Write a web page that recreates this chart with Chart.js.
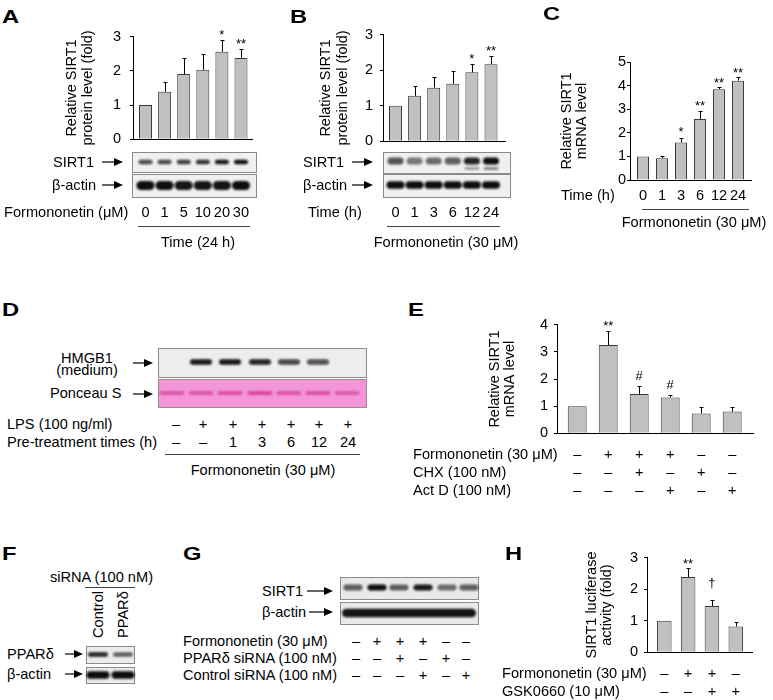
<!DOCTYPE html>
<html><head><meta charset="utf-8">
<script src="https://cdn.jsdelivr.net/npm/chart.js@4.4.1/dist/chart.umd.min.js"></script>
<style>
html,body{margin:0;padding:0;background:#fff;}
#fig{position:relative;width:773px;height:700px;overflow:hidden;font-family:"Liberation Sans",Arial,sans-serif;color:#000;background:#fff;}
#fig canvas{position:absolute;}
.t{position:absolute;white-space:nowrap;line-height:1;font-size:14.6px;}
#ov{position:absolute;left:0;top:0;}
</style></head><body>
<div id="fig"><svg id="ov" width="773" height="700"></svg></div>
<script>
// ---------------- DATA ----------------
// Panel A: SIRT1 protein vs formononetin dose (24 h)
const aDoses   = ['0','1','5','10','20','30'];
const aValues  = [1.00, 1.39, 1.91, 2.03, 2.56, 2.38];
const aErrors  = [0, 0.30, 0.47, 0.45, 0.34, 0.27];
const aMarks   = ['', '', '', '', '*', '**'];
const aSirt1Bands = [0.75, 0.75, 0.80, 0.85, 0.95, 1.00];
const aActinBands = [1.00, 1.00, 0.97, 0.97, 0.97, 1.00];

// Panel B: SIRT1 protein vs time (30 uM)
const bTimes   = ['0','1','3','6','12','24'];
const bValues  = [1.00, 1.28, 1.51, 1.62, 1.94, 2.17];
const bErrors  = [0, 0.27, 0.31, 0.37, 0.23, 0.23];
const bMarks   = ['', '', '', '', '*', '**'];
const bSirt1Bands = [0.70, 0.50, 0.55, 0.65, 0.90, 1.00];
const bActinBands = [1.00, 1.00, 1.00, 1.00, 1.00, 1.00];

// Panel C: SIRT1 mRNA vs time
const cTimes   = ['0','1','3','6','12','24'];
const cValues  = [1.00, 0.92, 1.59, 2.58, 3.85, 4.21];
const cErrors  = [0, 0.08, 0.21, 0.34, 0.08, 0.14];
const cMarks   = ['', '', '*', '**', '**', '**'];

// Panel D: HMGB1 blot
const dLPS       = ['–','+','+','+','+','+','+'];
const dPretreat  = ['–','–','1','3','6','12','24'];
const dHmgb1Bands   = [0, 0.95, 0.95, 0.90, 0.75, 0.70, 0];
const dPonceauBands = [0.55, 0.55, 0.60, 0.65, 0.55, 0.60, 0.50];

// Panel E: SIRT1 mRNA with CHX / Act D
const eFormononetin = ['–','+','+','+','–','–'];
const eCHX          = ['–','–','+','–','+','–'];
const eActD         = ['–','–','–','+','–','+'];
const eValues  = [1.00, 3.25, 1.45, 1.32, 0.73, 0.80];
const eErrors  = [0, 0.52, 0.29, 0.10, 0.24, 0.17];
const eMarks   = ['', '**', '#', '#', '', ''];

// Panel F: PPARdelta knockdown blot
const fLanes = ['Control', 'PPARδ'];
const fPpardBands = [0.90, 0.60];
const fActinBands = [1.00, 1.00];

// Panel G: SIRT1 blot with siRNA
const gFormononetin = ['–','+','+','+','–','–'];
const gPPARd        = ['–','–','+','–','+','–'];
const gControl      = ['–','–','–','+','–','+'];
const gSirt1Bands   = [0.65, 1.00, 0.60, 0.95, 0.55, 0.65];

// Panel H: SIRT1 luciferase
const hFormononetin = ['–','+','+','–'];
const hGSK          = ['–','–','+','+'];
const hValues  = [1.00, 2.39, 1.47, 0.82];
const hErrors  = [0, 0.27, 0.18, 0.14];
const hMarks   = ['', '**', '†', ''];

// ---------------- HELPERS ----------------
const FONT = '"Liberation Sans", Arial, sans-serif';
const fig = document.getElementById('fig');
const svg = document.getElementById('ov');
const NS = 'http://www.w3.org/2000/svg';
function S(tag, attrs, parent){ const e=document.createElementNS(NS,tag); for(const k in attrs) e.setAttribute(k, attrs[k]); (parent||svg).appendChild(e); return e; }
const defs = S('defs', {});
const flt = S('filter', {id:'bl', x:'-30%', y:'-150%', width:'160%', height:'400%'}, defs);
S('feGaussianBlur', {stdDeviation:'1.1'}, flt);

function line(x1,y1,x2,y2,w,c){ S('line',{x1,y1,x2,y2,stroke:c||'#333','stroke-width':w||1}); }
function arrow(x1,x2,y){ line(x1,y,x2-5,y,1.2,'#000'); S('polygon',{points:`${x2-9},${y-4} ${x2},${y} ${x2-9},${y+4}`, fill:'#000'}); }
function box(x,y,w,h,fill,stroke){ S('rect',{x:x+0.5,y:y+0.5,width:w,height:h,fill,stroke:stroke||'#8a8a8a','stroke-width':1}); }
function bands(xs, cy, intens, bw, bh, color){
  const g = S('g', {filter:'url(#bl)'});
  xs.forEach((x,i)=>{ if(intens[i]>0) S('rect',{x:x-bw/2,y:cy-bh/2,width:bw,height:bh,rx:bh/2,ry:bh/2,fill:color||'#0a0a0a','fill-opacity':intens[i]},g); });
}
function T(s, x, y, o){
  o = o||{};
  const d = document.createElement('div'); d.className='t'; d.textContent = s;
  if(o.size) d.style.fontSize = o.size+'px';
  if(o.bold) d.style.fontWeight = 'bold';
  d.style.left = x+'px'; d.style.top = y+'px';
  if(o.rot){
    d.style.transformOrigin = '0 0';
    d.style.transform = 'rotate(-90deg) translate(0,-50%)';
  } else {
    const tx = o.align==='center' ? '-50%' : o.align==='right' ? '-100%' : '0';
    d.style.transform = `translate(${tx},-50%)` + (o.sx ? ` scaleX(${o.sx})` : '');
    if(o.sx) d.style.transformOrigin = '0 50%';
  }
  fig.appendChild(d);
  return d;
}
function errPlugin(errors){
  return { id:'errbars', afterDatasetsDraw(chart){
    const {ctx, scales:{x,y}} = chart;
    const data = chart.data.datasets[0].data;
    ctx.save(); ctx.strokeStyle='#000'; ctx.lineWidth=1;
    data.forEach((d,i)=>{
      const e = errors[i]; if(!e) return;
      const px = Math.round(x.getPixelForValue(d.x))+0.5;
      const y0 = y.getPixelForValue(d.y), y1 = Math.round(y.getPixelForValue(d.y+e))+0.5;
      ctx.beginPath(); ctx.moveTo(px,y0); ctx.lineTo(px,y1);
      ctx.moveTo(px-2,y1); ctx.lineTo(px+2,y1); ctx.stroke();
    });
    ctx.restore();
  }};
}
function barChart(o){
  const cv = document.createElement('canvas');
  cv.width = o.w; cv.height = o.h;
  cv.style.left = o.left+'px'; cv.style.top = o.top+'px';
  cv.style.width = o.w+'px'; cv.style.height = o.h+'px';
  fig.appendChild(cv);
  const ch = new Chart(cv, {
    type: 'bar',
    data: { datasets: [{ data: o.values.map((v,i)=>({x:i, y:v})), backgroundColor:'#c0c0c0', borderColor:'#3a3a3a', borderWidth:1, barPercentage:o.bp, categoryPercentage:1 }] },
    options: {
      responsive:false, animation:false, devicePixelRatio:1,
      layout:{ padding:{ left:o.padL, top:10, right:4, bottom:10 } },
      plugins:{ legend:{display:false}, tooltip:{enabled:false} },
      scales:{
        x:{ type:'linear', min:o.xmin, max:o.xmax, offset:false,
            grid:{display:false, drawTicks:false}, ticks:{display:false},
            border:{display:true, color:'#000', width:1},
            afterBuildTicks: s => { s.ticks = o.values.map((v,i)=>({value:i})); },
            afterFit: s => { s.height = 0; } },
        y:{ min:0, max:o.ymax,
            ticks:{ stepSize:1, color:'#000', padding:o.tpad, font:{family:FONT, size:14.5} },
            grid:{ drawOnChartArea:false, drawTicks:true, tickLength:3, color:'#000' },
            border:{ display:true, color:'#000', width:1 },
            title:{ display:true, text:o.title, color:'#000', padding:0, font:{family:FONT, size:14.5, lineHeight:o.lh/14.5} },
            afterFit: s => { s.width = o.yw; } }
      }
    },
    plugins:[ errPlugin(o.errors) ]
  });
  ch._L = o.left; ch._T = o.top;
  return ch;
}
function px(ch, i){ return ch._L + ch.scales.x.getPixelForValue(i); }
const MARK_OFF = {'*':0.277,'**':0.277,'#':0.4865,'†':0.5765};
const MARK_GAP = {'*':8.5,'**':8,'#':10.5,'†':17};
function marks(ch, vals, errs, mk){
  mk.forEach((m,i)=>{
    if(!m) return;
    const sz = 13;
    const yTop = ch._T + ch.scales.y.getPixelForValue(vals[i]+errs[i]);
    const cy = yTop - MARK_GAP[m];
    const d = document.createElement('div'); d.className='t'; d.textContent=m;
    d.style.fontSize = sz+'px'; d.style.left = px(ch,i)+'px'; d.style.top = (cy - MARK_OFF[m]*sz)+'px';
    d.style.transform = 'translateX(-50%)';
    fig.appendChild(d);
  });
}
function row(ch, arr, cy){ arr.forEach((s,i)=>T(s, px(ch,i), cy, {align:'center'})); }

// ---------------- PANEL A ----------------
const chA = barChart({ left:60, top:19, w:196, h:138, padL:4, yw:69, tpad:9, lh:16, bp:0.68,
  xmin:-0.654, xmax:5.576, ymax:3, values:aValues, errors:aErrors, title:['Relative SIRT1','protein level (fold)'] });
marks(chA, aValues, aErrors, aMarks);
box(132,152,124,20,'#f0f0f0'); box(132,174,124,23,'#f0f0f0');
const aLx = aValues.map((v,i)=>px(chA,i));
bands(aLx, 162, aSirt1Bands, 14, 4.5);
bands(aLx, 185.5, aActinBands, 18, 9);
T('A', 2, 16, {bold:true, size:19, sx:1.25});
T('SIRT1', 53, 162); arrow(102,123,162);
T('β-actin', 52, 185); arrow(102,123,185);
T('Formononetin (μM)', 4, 212);
row(chA, aDoses, 212);
line(138,226.5,250,226.5,1,'#444');
T('Time (24 h)', 198, 242, {align:'center'});

// ---------------- PANEL B ----------------
const chB = barChart({ left:313, top:19, w:196, h:138, padL:4, yw:66, tpad:7, lh:17, bp:0.68,
  xmin:-0.654, xmax:5.733, ymax:3, values:bValues, errors:bErrors, title:['Relative SIRT1','protein level (fold)'] });
marks(chB, bValues, bErrors, bMarks);
box(383,152,127,21,'#f0f0f0'); box(383,174,127,23,'#f0f0f0');
const bLx = bValues.map((v,i)=>px(chB,i));
bands(bLx, 161, bSirt1Bands, 16, 7);
bands(bLx.slice(4), 168.5, [0.35,0.45], 15, 3);
bands(bLx, 185, bActinBands, 18, 7.5);
T('B', 290, 16, {bold:true, size:19, sx:1.25});
T('SIRT1', 303, 162); arrow(352,373,162);
T('β-actin', 303, 185); arrow(352,373,185);
T('Time (h)', 308, 212);
row(chB, bTimes, 212);
line(387,226.5,500,226.5,1,'#444');
T('Formononetin (30 μM)', 446, 242, {align:'center'});

// ---------------- PANEL C ----------------
const chC = barChart({ left:555, top:52, w:200, h:138, padL:4, yw:71, tpad:1, lh:15, bp:0.63,
  xmin:-0.684, xmax:5.684, ymax:5, values:cValues, errors:cErrors, title:['Relative SIRT1','mRNA level'] });
marks(chC, cValues, cErrors, cMarks);
T('C', 543, 13, {bold:true, size:19, sx:1.25});
T('Time (h)', 561, 195);
row(chC, cTimes, 195);
line(642,209.5,749,209.5,1,'#444');
T('Formononetin (30 μM)', 694, 222, {align:'center'});

// ---------------- PANEL D ----------------
const dLaneBand = [172, 201, 230, 260, 289, 318, 347];
const dLaneLbl  = [176, 203, 233, 262, 291, 319, 348];
box(158,348,208,29,'#ededed');
S('rect',{x:158.5,y:379.5,width:208,height:28,fill:'#f396d8',stroke:'#9a8a96','stroke-width':1});
bands(dLaneBand, 362, dHmgb1Bands, 22, 5.5);
bands(dLaneBand, 393, dPonceauBands, 25, 4, '#c8207f');
T('D', 2, 309, {bold:true, size:19, sx:1.25});
T('HMGB1', 87, 358, {align:'center'});
T('(medium)', 87, 370, {align:'center'});
arrow(133,153,363);
T('Ponceau S', 50, 392.5); arrow(133,153,394);
T('LPS (100 ng/ml)', 7, 424);
T('Pre-treatment times (h)', 7, 442);
dLPS.forEach((s,i)=>T(s, dLaneLbl[i], 424, {align:'center'}));
dPretreat.forEach((s,i)=>T(s, dLaneLbl[i], 442, {align:'center'}));
line(165,454.5,360,454.5,1,'#444');
T('Formononetin (30 μM)', 263, 470, {align:'center'});

// ---------------- PANEL E ----------------
const chE = barChart({ left:483, top:310, w:274, h:138, padL:4, yw:70, tpad:6, lh:15, bp:0.61,
  xmin:-0.652, xmax:5.671, ymax:4, values:eValues, errors:eErrors, title:['Relative SIRT1','mRNA level'] });
marks(chE, eValues, eErrors, eMarks);
T('E', 408, 309, {bold:true, size:19, sx:1.25});
T('Formononetin (30 μM)', 413, 454);
T('CHX (100 nM)', 413, 472);
T('Act D (100 nM)', 413, 490);
row(chE, eFormononetin, 454);
row(chE, eCHX, 472);
row(chE, eActD, 490);

// ---------------- PANEL F ----------------
const fLaneX = [98, 123];
box(86,646,48,17,'#ececec'); box(86,667,48,16,'#ececec');
bands(fLaneX, 654.5, fPpardBands, 20, 4.5);
bands(fLaneX, 675, fActinBands, 23, 7.5);
T('F', 2, 553, {bold:true, size:19, sx:1.25});
T('siRNA (100 nM)', 50, 577);
line(85,587.5,135,587.5,1,'#444');
fLanes.forEach((s,i)=>T(s, fLaneX[i], 638, {rot:true}));
T('PPARδ', 7, 654); arrow(65,83,654);
T('β-actin', 7, 674); arrow(65,83,674);

// ---------------- PANEL G ----------------
const gLaneBand = [353, 377, 399, 423, 447, 469];
const gLaneLbl  = [356, 377, 400, 423, 446, 466];
box(340,577,138,22,'#e9e9e9'); box(340,602,138,22,'#e9e9e9');
bands(gLaneBand, 587.5, gSirt1Bands, 19, 6);
bands([409], 613, [0.97], 134, 8.5);
T('G', 183, 553, {bold:true, size:19, sx:1.25});
T('SIRT1', 262, 591); arrow(307,333,591);
T('β-actin', 262, 612); arrow(309,333,612);
T('Formononetin (30 μM)', 183, 641);
T('PPARδ siRNA (100 nM)', 183, 658);
T('Control siRNA (100 nM)', 183, 675);
gFormononetin.forEach((s,i)=>T(s, gLaneLbl[i], 641, {align:'center'}));
gPPARd.forEach((s,i)=>T(s, gLaneLbl[i], 658, {align:'center'}));
gControl.forEach((s,i)=>T(s, gLaneLbl[i], 675, {align:'center'}));

// ---------------- PANEL H ----------------
const chH = barChart({ left:580, top:543, w:176, h:124, padL:4, yw:63, tpad:6, lh:15, bp:0.61,
  xmin:-0.726, xmax:3.68, ymax:3, values:hValues, errors:hErrors, title:['SIRT1 luciferase','activity (fold)'] });
marks(chH, hValues, hErrors, hMarks);
T('H', 505, 553, {bold:true, size:19, sx:1.25});
T('Formononetin (30 μM)', 502, 673);
T('GSK0660 (10 μM)', 502, 691);
row(chH, hFormononetin, 673);
row(chH, hGSK, 691);
</script>
</body></html>
